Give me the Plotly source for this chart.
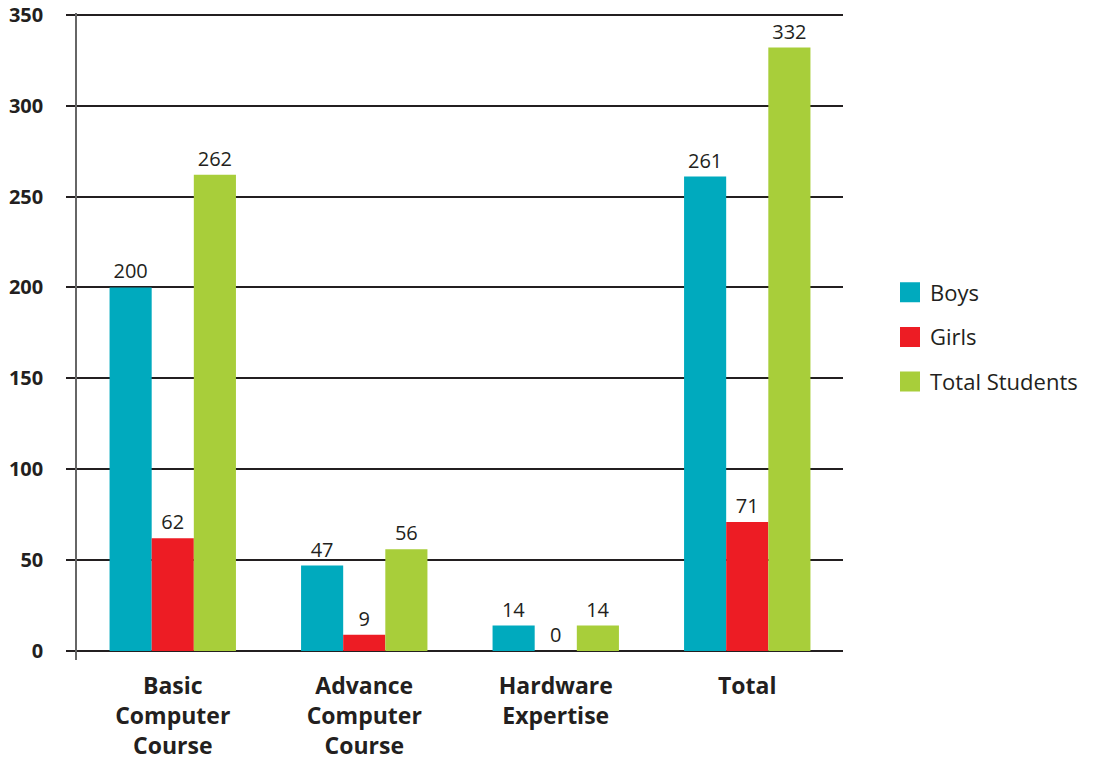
import plotly.graph_objects as go

categories = ["Basic<br>Computer<br>Course", "Advance<br>Computer<br>Course", "Hardware<br>Expertise", "Total"]
boys = [200, 47, 14, 261]
girls = [62, 9, 0, 71]
total_students = [262, 56, 14, 332]
series_names = ["Boys", "Girls", "Total Students"]
colors = ["#00AABE", "#ED1C24", "#A8CE3A"]
y_ticks = [0, 50, 100, 150, 200, 250, 300, 350]

FONT = "Open Sans"
TXT = "#231F20"

fig = go.Figure()
for name, vals, col in zip(series_names, [boys, girls, total_students], colors):
    fig.add_trace(go.Bar(
        x=categories, y=vals, name=name, marker=dict(color=col, line=dict(width=0)),
        text=[str(v) for v in vals],
        textposition="outside", cliponaxis=False,
        textfont=dict(family=FONT, size=20, color=TXT),
        showlegend=False,
    ))
for i, (name, col) in enumerate(zip(series_names, colors)):
    fig.add_trace(go.Scatter(
        x=[None], y=[None], mode="markers", name=name, legendgroup=str(i),
        marker=dict(symbol="square", size=16, color=col, line=dict(color=col, width=4)),
    ))

fig.update_layout(
    width=1098, height=763,
    margin=dict(l=77, r=255, t=13, b=103),
    paper_bgcolor="white", plot_bgcolor="white",
    barmode="group", bargap=0.34, bargroupgap=0,
    font=dict(family=FONT, color=TXT),
    legend=dict(xref="container", yref="container", x=890 / 1098, y=1 - 337 / 763,
                xanchor="left", yanchor="middle", tracegroupgap=13,
                font=dict(family=FONT, size=22, color=TXT)),
    xaxis=dict(showgrid=False, showline=False, ticks="", range=[-0.5, 3.5], automargin=False,
               tickfont=dict(family=FONT, size=23, color=TXT, weight="bold"),
               ticklabelstandoff=10),
    yaxis=dict(range=[-4.95, 351], tickvals=y_ticks, showgrid=True, gridcolor="#231F20", gridwidth=1.5,
               zeroline=False, showline=True, linecolor="#666666", linewidth=1.5, automargin=False,
               ticks="outside", ticklen=9, tickcolor="#231F20", tickwidth=1.5,
               ticklabelstandoff=19, ticklabeloverflow="allow",
               tickfont=dict(family=FONT, size=20, color=TXT, weight="bold")),
)

fig.write_html("out.html", config={"displayModeBar": False},
               post_script="document.body.style.margin='0';")
